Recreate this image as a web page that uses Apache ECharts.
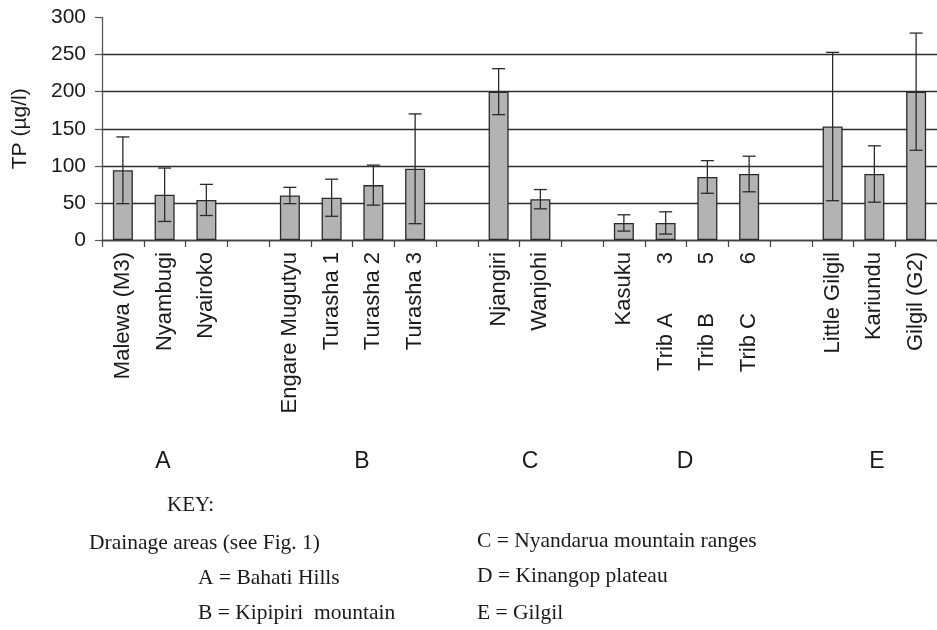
<!DOCTYPE html>
<html>
<head>
<meta charset="utf-8">
<script src="https://cdn.jsdelivr.net/npm/echarts@6/dist/echarts.min.js"></script>
<style>
html,body{margin:0;padding:0;background:#fff;}
#chart{width:937px;height:630px;}
</style>
</head>
<body>
<div id="chart"></div>
<script>
// Sites (empty strings are the gaps between drainage areas)
const categories = ['Malewa (M3)', 'Nyambugi', 'Nyairoko', '', 'Engare Mugutyu', 'Turasha 1', 'Turasha 2', 'Turasha 3', '', 'Njangiri', 'Wanjohi', '', 'Kasuku', 'Trib A        3', 'Trib B        5', 'Trib C        6', '', 'Little Gilgil', 'Kariundu', 'Gilgil (G2)'];
// Mean TP (µg/l)
const tpMean = [94, 61, 54, null, 60, 57, 74, 96, null, 200, 55, null, 23, 23, 85, 89, null, 153, 89, 200];
// Error (± standard deviation)
const tpErr = [45, 36, 21, null, 11, 25, 27, 74, null, 31, 13, null, 11, 15, 22, 24, null, 100, 38, 79];
const yTicks = { min: 0, max: 300, interval: 50 };
const yTitle = 'TP (µg/l)';
const groupLetters = ['A', 'B', 'C', 'D', 'E'];
const keyTitle = 'KEY:';
const keyLeft = ['Drainage areas (see Fig. 1)', 'A = Bahati Hills', 'B = Kipipiri  mountain'];
const keyRight = ['C = Nyandarua mountain ranges', 'D = Kinangop plateau', 'E = Gilgil'];

const errData = tpMean.map((m, i) => m == null ? [i, null, null] : [i, m - tpErr[i], m + tpErr[i]]);

const chart = echarts.init(document.getElementById('chart'), null, { renderer: 'canvas' });
const sans = "'Liberation Sans', Arial, sans-serif";
const serif = "'Liberation Serif', 'Times New Roman', serif";
const ink = '#1a1a1a';

const letterPos = [[163, 462], [362, 462], [530, 462], [685, 462], [877, 462]];
const graphics = [];
groupLetters.forEach((t, i) => {
  graphics.push({ type: 'text', x: letterPos[i][0], y: letterPos[i][1],
    style: { text: t, font: '23px ' + sans, fill: ink, align: 'center', verticalAlign: 'middle' } });
});
graphics.push({ type: 'text', x: 167, y: 505, style: { text: keyTitle, font: '21px ' + serif, fill: ink, align: 'left', verticalAlign: 'middle' } });
const leftPos = [[89, 543], [198, 578], [198, 613]];
keyLeft.forEach((t, i) => graphics.push({ type: 'text', x: leftPos[i][0], y: leftPos[i][1],
  style: { text: t, font: '21.5px ' + serif, fill: ink, align: 'left', verticalAlign: 'middle' } }));
const rightY = [541, 576, 613];
keyRight.forEach((t, i) => graphics.push({ type: 'text', x: 477, y: rightY[i],
  style: { text: t, font: '21.5px ' + serif, fill: ink, align: 'left', verticalAlign: 'middle' } }));

chart.setOption({
  backgroundColor: '#fff',
  animation: false,
  grid: { left: 102, top: 17.5, bottom: 390, right: -4, containLabel: false },
  xAxis: {
    type: 'category',
    data: categories,
    boundaryGap: true,
    axisLine: { show: true, lineStyle: { color: '#444', width: 1.3 } },
    axisTick: { show: true, length: 7, alignWithLabel: false, interval: 0, lineStyle: { color: '#444', width: 1.2 } },
    axisLabel: { interval: 0, rotate: 90, margin: 12, fontSize: 22, fontFamily: sans, color: ink }
  },
  yAxis: {
    type: 'value',
    min: yTicks.min, max: yTicks.max, interval: yTicks.interval,
    name: yTitle,
    nameLocation: 'middle',
    nameGap: 71,
    nameTextStyle: { fontSize: 21, fontFamily: sans, color: ink },
    axisLine: { show: true, lineStyle: { color: '#555', width: 1.3 } },
    axisTick: { show: true, length: 7, lineStyle: { color: '#555', width: 1.2 } },
    axisLabel: { margin: 16, fontSize: 21, fontFamily: sans, color: ink },
    splitLine: { show: true, showMaxLine: false, lineStyle: { color: '#2e2e2e', width: 1.4 } }
  },
  series: [
    {
      type: 'bar',
      data: tpMean,
      barWidth: 20,
      itemStyle: { color: '#b3b3b3', borderColor: '#2a2a2a', borderWidth: 1.3 },
      z: 2
    },
    {
      type: 'custom',
      data: errData,
      z: 3,
      renderItem: function (params, api) {
        const lo = api.value(1), hi = api.value(2);
        if (lo == null || hi == null || isNaN(lo)) return null;
        const x = api.value(0);
        const pLo = api.coord([x, lo]);
        const pHi = api.coord([x, hi]);
        const cap = 6.5;
        const st = { stroke: '#2a2a2a', lineWidth: 1.3 };
        return {
          type: 'group',
          children: [
            { type: 'line', shape: { x1: pLo[0], y1: pLo[1], x2: pHi[0], y2: pHi[1] }, style: st },
            { type: 'line', shape: { x1: pHi[0] - cap, y1: pHi[1], x2: pHi[0] + cap, y2: pHi[1] }, style: st },
            { type: 'line', shape: { x1: pLo[0] - cap, y1: pLo[1], x2: pLo[0] + cap, y2: pLo[1] }, style: st }
          ]
        };
      }
    }
  ],
  graphic: graphics
});
</script>
</body>
</html>
